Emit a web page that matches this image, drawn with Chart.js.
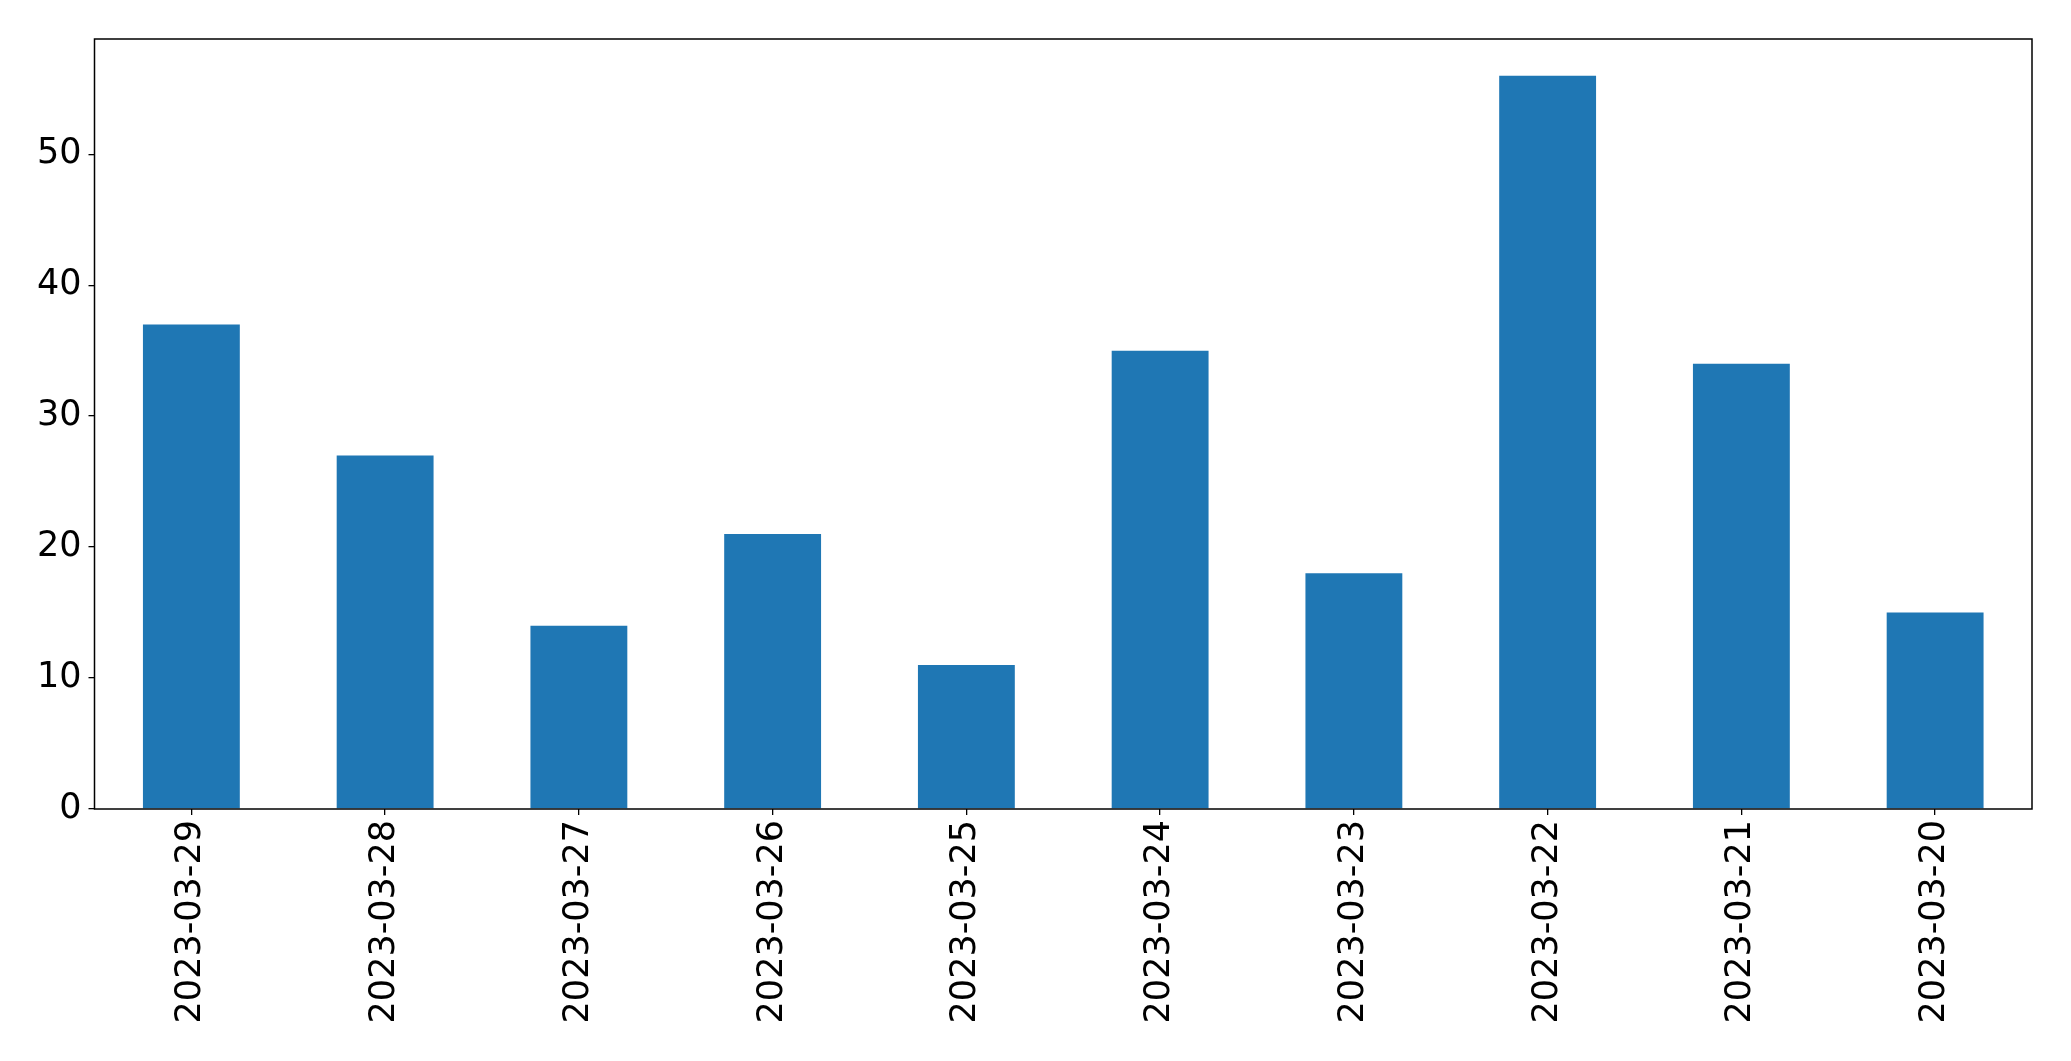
<!DOCTYPE html>
<html>
<head>
<meta charset="utf-8">
<script src="https://cdn.jsdelivr.net/npm/chart.js@4"></script>
<style>
  html, body { margin: 0; padding: 0; background: #fff; }
  #wrap { width: 2071px; height: 1061px; }
</style>
</head>
<body>
<div id="wrap"><canvas id="barChart" width="2071" height="1061"></canvas></div>
<script>
const dates = ['2023-03-29', '2023-03-28', '2023-03-27', '2023-03-26', '2023-03-25',
               '2023-03-24', '2023-03-23', '2023-03-22', '2023-03-21', '2023-03-20'];
const counts = [37, 27, 14, 21, 11, 35, 18, 56, 34, 15];
const yTicks = [0, 10, 20, 30, 40, 50];

// box round the plot area, like matplotlib's spines
const frame = {
    id: 'frame',
    afterDraw(chart) {
        const { ctx, chartArea: a } = chart;
        ctx.save();
        ctx.strokeStyle = '#000';
        ctx.lineWidth = 1.5;
        ctx.strokeRect(a.left, a.top, a.right - a.left, a.bottom - a.top);
        ctx.restore();
    }
};

const tickFont = { family: 'DejaVu Sans', size: 35 };

new Chart(document.getElementById('barChart').getContext('2d'), {
    type: 'bar',
    data: {
        labels: dates,
        datasets: [{
            data: counts,
            backgroundColor: '#1f77b4',
            barPercentage: 0.5,
            categoryPercentage: 1.0
        }]
    },
    options: {
        responsive: false,
        animation: false,
        layout: { padding: { top: 39, right: 39, left: 0, bottom: 0 } },
        plugins: { legend: { display: false }, tooltip: { enabled: false } },
        scales: {
            x: {
                offset: true,
                grid: { display: true, drawOnChartArea: false, color: '#000', lineWidth: 1.3, tickLength: 6, offset: false },
                border: { display: false },
                ticks: { color: '#000', font: tickFont, minRotation: 90, maxRotation: 90, padding: 5, autoSkip: false },
                afterFit(scale) { scale.height = 252; }
            },
            y: {
                min: 0,
                max: 58.8,
                grid: { display: true, drawOnChartArea: false, color: '#000', lineWidth: 1.3, tickLength: 6 },
                border: { display: false },
                ticks: { color: '#000', font: tickFont, padding: 7 },
                afterBuildTicks(scale) { scale.ticks = yTicks.map(v => ({ value: v })); },
                afterFit(scale) { scale.width = 94.5; }
            }
        }
    },
    plugins: [frame]
});
</script>
</body>
</html>
